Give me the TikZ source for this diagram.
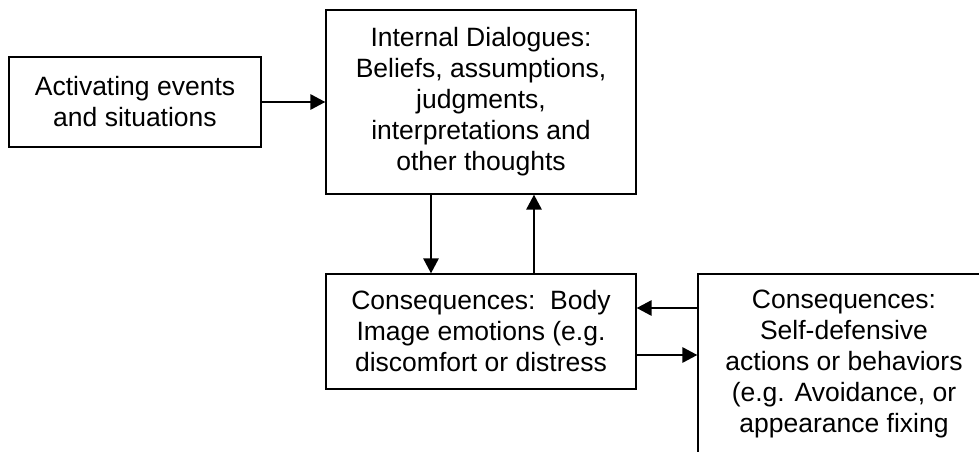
\documentclass[tikz,border=0pt]{standalone}
\usepackage{fontspec}
\setmainfont{Liberation Sans}
\usetikzlibrary{positioning,arrows.meta}

\begin{document}
\begin{tikzpicture}[x=1pt,y=-1pt,
    box/.style={draw,line width=1.2pt,align=center,inner sep=0pt,
      font=\fontsize{26.5}{31}\selectfont},
    arrow/.style={line width=2.8pt,-{Triangle[length=15pt,width=15pt]}}]
  \useasboundingbox (0,0) rectangle (979,452);
  \node[box,minimum width=252pt,minimum height=90pt] (act) at (135,102)
    {Activating events\\and situations};
  \node[box,minimum width=310pt,minimum height=184pt] (dial) at (481,102)
    {Internal Dialogues:\\Beliefs, assumptions,\\judgments,\\interpretations and\\other thoughts};
  \node[box,minimum width=310pt,minimum height=115pt] (emo) at (481,331.5)
    {Consequences:\ \ Body\\Image emotions (e.g.\\discomfort or distress};
  \node[box,minimum width=292pt,minimum height=179pt] (act2) at (844,363.5)
    {Consequences:\\Self-defensive\\actions or behaviors\\(e.g. Avoidance, or\\appearance fixing};
  \coordinate (c1) at ([yshift=23.5pt]emo.east);
  \coordinate (c2) at ([yshift=-23.5pt]emo.east);
  \draw[arrow] (act) -- (act.east -| dial.west);
  \draw[arrow] ([xshift=-50pt]dial.south) -- ([xshift=-50pt]emo.north);
  \draw[arrow] ([xshift=53pt]emo.north) -- ([xshift=53pt]dial.south);
  \draw[arrow] (c1 -| act2.west) -- (c1);
  \draw[arrow] (c2) -- (c2 -| act2.west);
\end{tikzpicture}
\end{document}
